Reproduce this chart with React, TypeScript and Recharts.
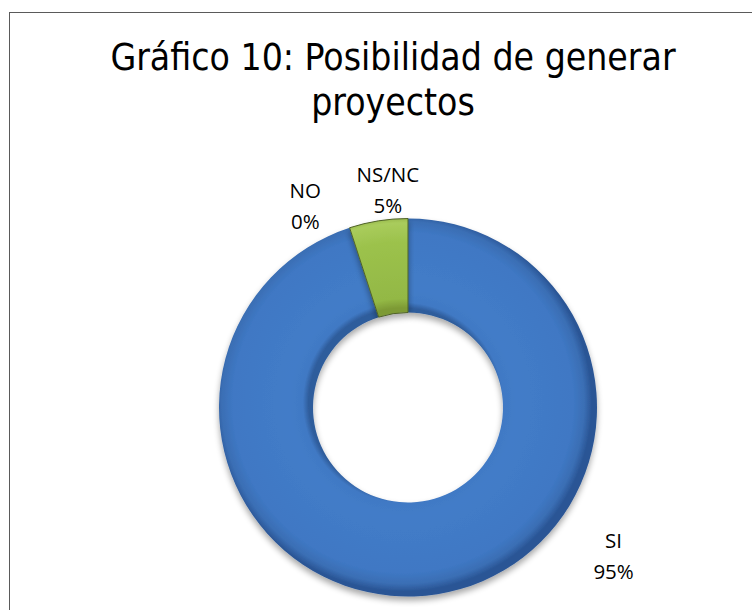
import React from 'react';
import { PieChart, Pie, Cell } from 'recharts';

const categories = ['SI', 'NO', 'NS/NC'];
const values = [95, 0, 5];
const titleLines = ['Gráfico 10: Posibilidad de generar', 'proyectos'];

const data = categories.map((name, i) => ({ name, value: values[i] }));

const fills = ['url(#blueBevel)', 'url(#greenBevel)', 'url(#greenBevel)'];
const strokes = ['none', '#4f6228', '#4f6228'];

// label placement (angle in degrees, distance from centre) for the baseline of the second line
const labelPlace: Record<string, { angle: number; dist: number }> = {
  SI: { angle: -39.9, dist: 268 },
  NO: { angle: 119.9, dist: 206 },
  'NS/NC': { angle: 95.9, dist: 196 },
};

const RAD = Math.PI / 180;

const renderLabel = (props: any) => {
  const { cx, cy, name, percent } = props;
  const p = labelPlace[name];
  if (!p) return null;
  const x = cx + p.dist * Math.cos(p.angle * RAD);
  const y = cy - p.dist * Math.sin(p.angle * RAD);
  return (
    <text
      x={x}
      y={y}
      textAnchor="middle"
      fill="#000"
      style={{ fontFamily: '"Open Sans", "Liberation Sans", sans-serif', fontSize: 20.5 }}
    >
      <tspan x={x} dy={-31}>{name}</tspan>
      <tspan x={x} dy={31}>{`${Math.round(percent * 100)}%`}</tspan>
    </text>
  );
};

export default function App() {
  return (
    <div style={{ position: 'fixed', left: 0, top: 0, width: 752, height: 610, overflow: 'hidden', background: '#fff' }}>
      <div
        style={{
          position: 'absolute',
          left: 9,
          top: 12,
          width: 800,
          height: 700,
          borderLeft: '1px solid #5a5a5a',
          borderTop: '1px solid #5a5a5a',
        }}
      />
      <svg width={752} height={140} style={{ position: 'absolute', left: 0, top: 0 }}>
        <text
          x={393}
          y={70}
          textAnchor="middle"
          fill="#000"
          style={{ fontFamily: '"DejaVu Sans Condensed", "DejaVu Sans", sans-serif', fontSize: 37 }}
        >
          {titleLines[0]}
        </text>
        <text
          x={393}
          y={115}
          textAnchor="middle"
          fill="#000"
          style={{ fontFamily: '"DejaVu Sans Condensed", "DejaVu Sans", sans-serif', fontSize: 37 }}
        >
          {titleLines[1]}
        </text>
      </svg>
      <div style={{ position: 'absolute', left: 0, top: 0 }}>
        <PieChart width={752} height={610}>
          <defs>
            <radialGradient id="blueBevel" gradientUnits="userSpaceOnUse" cx={403} cy={402.5} r={189}>
              <stop offset="0.5" stopColor="#2f5d9c" />
              <stop offset="0.53" stopColor="#4079c4" />
              <stop offset="0.6" stopColor="#437cc8" />
              <stop offset="0.9" stopColor="#3f78c4" />
              <stop offset="0.96" stopColor="#3a6eb4" />
              <stop offset="1" stopColor="#2a5595" />
            </radialGradient>
            <radialGradient id="greenBevel" gradientUnits="userSpaceOnUse" cx={403} cy={402.5} r={189}>
              <stop offset="0.5" stopColor="#7d9a35" />
              <stop offset="0.55" stopColor="#93b845" />
              <stop offset="0.85" stopColor="#9cc24c" />
              <stop offset="0.95" stopColor="#a9cc5c" />
              <stop offset="1" stopColor="#8aa83f" />
            </radialGradient>
            <filter id="ringShadow" x="-10%" y="-10%" width="120%" height="125%">
              <feGaussianBlur in="SourceAlpha" stdDeviation="3" />
              <feOffset dx="0" dy="4" result="off" />
              <feComponentTransfer>
                <feFuncA type="linear" slope="0.35" />
              </feComponentTransfer>
              <feMerge>
                <feMergeNode />
                <feMergeNode in="SourceGraphic" />
              </feMerge>
            </filter>
          </defs>
          <Pie
            data={data}
            dataKey="value"
            nameKey="name"
            cx={403}
            cy={402.5}
            innerRadius={95}
            outerRadius={189}
            startAngle={90}
            endAngle={-270}
            paddingAngle={0}
            label={renderLabel}
            labelLine={false}
            isAnimationActive={false}
            style={{ filter: 'url(#ringShadow)' }}
          >
            {data.map((d, i) => (
              <Cell key={d.name} fill={fills[i]} stroke={strokes[i]} strokeWidth={1} />
            ))}
          </Pie>
        </PieChart>
      </div>
    </div>
  );
}
